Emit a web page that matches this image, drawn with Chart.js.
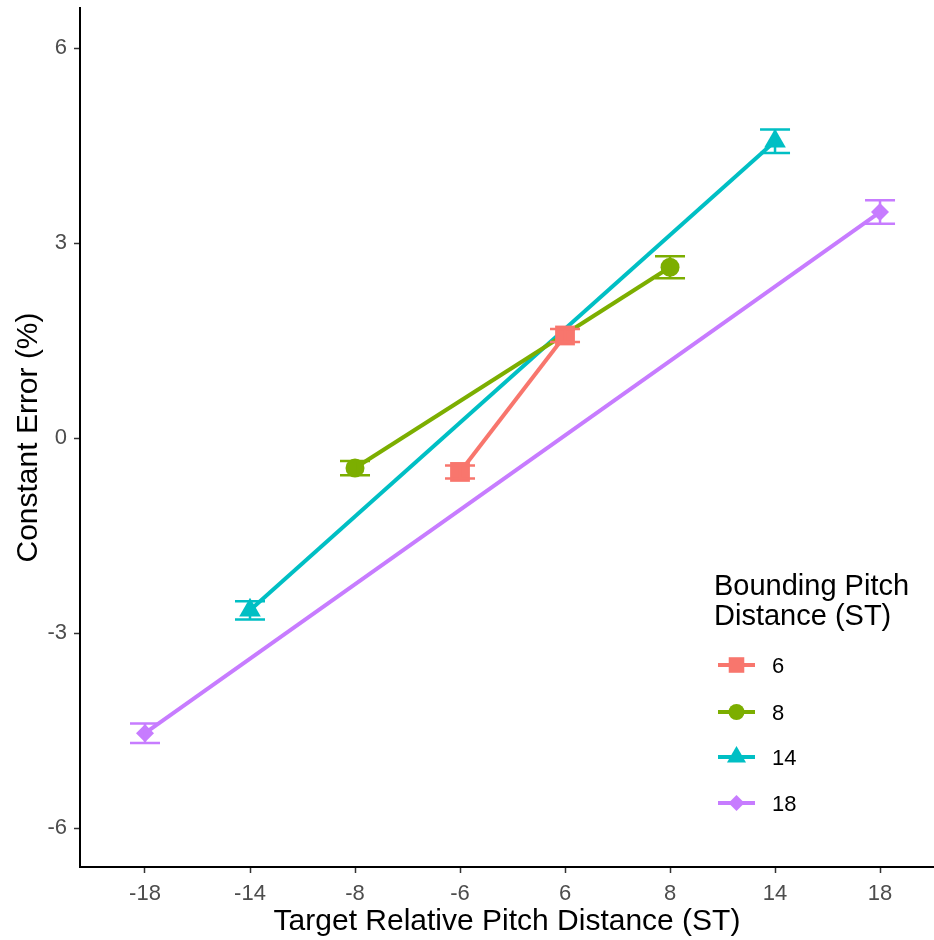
<!DOCTYPE html>
<html>
<head>
<meta charset="utf-8">
<script src="https://cdn.jsdelivr.net/npm/chart.js@4.4.0/dist/chart.umd.min.js"></script>
<style>
  html, body { margin: 0; padding: 0; background: #fff; }
  #wrap { width: 934px; height: 940px; }
</style>
</head>
<body>
<div id="wrap"><canvas id="chart" width="934" height="940"></canvas></div>
<script>
// x categories (target relative pitch distance, ST)
const xLabels = ["-18", "-14", "-8", "-6", "6", "8", "14", "18"];
const yTicks = [-6, -3, 0, 3, 6];

// bounding pitch distance groups
const groupNames = ["6", "8", "14", "18"];
const groupColors = ["#F8766D", "#7CAE00", "#00BFC4", "#C77CFF"];
const groupShapes = ["rect", "circle", "triangle", "rectRot"];
const groupRadius = [14, 9.5, 12.5, 9];

const targets6 = ["-6", "6"];
const means6 = [-0.52, 1.58];
const err6 = [0.1, 0.1];

const targets8 = ["-8", "8"];
const means8 = [-0.46, 2.63];
const err8 = [0.11, 0.17];

const targets14 = ["-14", "14"];
const means14 = [-2.65, 4.57];
const err14 = [0.14, 0.18];

const targets18 = ["-18", "18"];
const means18 = [-4.54, 3.48];
const err18 = [0.15, 0.18];

const allTargets = [targets6, targets8, targets14, targets18];
const allMeans = [means6, means8, means14, means18];
const allErr = [err6, err8, err14, err18];

const FONT = "'Liberation Sans', Arial, sans-serif";

const datasets = groupNames.map((g, k) => ({
  label: g,
  data: allTargets[k].map((t, i) => ({ x: xLabels.indexOf(t), y: allMeans[k][i], err: allErr[k][i] })),
  borderColor: groupColors[k],
  backgroundColor: groupColors[k],
  borderWidth: 4,
  pointStyle: groupShapes[k],
  pointRadius: groupRadius[k],
  pointHoverRadius: groupRadius[k],
  pointBorderWidth: 0,
  tension: 0,
}));

// error bars drawn through the scales
const errorBars = {
  id: "errorBars",
  afterDatasetsDraw(chart) {
    const ctx = chart.ctx;
    const xs = chart.scales.x, ys = chart.scales.y;
    chart.data.datasets.forEach((ds) => {
      ctx.save();
      ctx.strokeStyle = ds.borderColor;
      ctx.lineWidth = 2.5;
      ds.data.forEach((p) => {
        const px = xs.getPixelForValue(p.x);
        const top = ys.getPixelForValue(p.y + p.err);
        const bot = ys.getPixelForValue(p.y - p.err);
        ctx.beginPath();
        ctx.moveTo(px, top); ctx.lineTo(px, bot);
        ctx.moveTo(px - 15, top); ctx.lineTo(px + 15, top);
        ctx.moveTo(px - 15, bot); ctx.lineTo(px + 15, bot);
        ctx.stroke();
      });
      ctx.restore();
    });
  },
};

// legend inside the plot, like ggplot's
const insideLegend = {
  id: "insideLegend",
  afterDraw(chart) {
    const ctx = chart.ctx;
    ctx.save();
    ctx.fillStyle = "#000";
    ctx.textBaseline = "alphabetic";
    ctx.textAlign = "left";
    ctx.font = "29px " + FONT;
    ctx.fillText("Bounding Pitch", 714, 595);
    ctx.fillText("Distance (ST)", 714, 625);
    const rows = [665, 712, 757, 803];
    const sizes = [11, 8, 11, 8];
    ctx.font = "22px " + FONT;
    groupNames.forEach((g, k) => {
      const y = rows[k];
      ctx.strokeStyle = groupColors[k];
      ctx.fillStyle = groupColors[k];
      ctx.lineWidth = 4;
      ctx.beginPath();
      ctx.moveTo(718, y); ctx.lineTo(755, y);
      ctx.stroke();
      Chart.helpers.drawPoint(ctx, { pointStyle: groupShapes[k], radius: sizes[k], rotation: 0, borderWidth: 0 }, 736.5, y);
      ctx.fillStyle = "#000";
      ctx.fillText(g, 772, y + 8);
    });
    ctx.restore();
  },
};

function noPad(s) {
  s.paddingTop = 0; s.paddingBottom = 0; s.paddingLeft = 0; s.paddingRight = 0;
}

new Chart(document.getElementById("chart").getContext("2d"), {
  type: "line",
  data: { datasets: datasets },
  options: {
    responsive: false,
    devicePixelRatio: 1,
    animation: false,
    layout: { autoPadding: false, padding: { top: 8, right: 0, left: 0, bottom: 0 } },
    plugins: { legend: { display: false }, tooltip: { enabled: false } },
    scales: {
      x: {
        type: "linear",
        min: -0.619,
        max: 7.514,
        afterBuildTicks: (s) => { s.ticks = xLabels.map((_, i) => ({ value: i })); },
        afterFit: (s) => { s.height = 73; noPad(s); },
        ticks: {
          callback: (v) => xLabels[v],
          color: "#4D4D4D",
          font: { family: FONT, size: 22 },
          padding: 8,
          maxRotation: 0,
          autoSkip: false,
        },
        grid: { drawOnChartArea: false, tickLength: 6, tickColor: "#333", tickWidth: 1.5 },
        border: { color: "#000", width: 2 },
        title: {
          display: true,
          text: "Target Relative Pitch Distance (ST)",
          color: "#000",
          font: { family: FONT, size: 30 },
          padding: { top: 0, bottom: 0 },
        },
      },
      y: {
        min: -6.6,
        max: 6.62,
        afterBuildTicks: (s) => { s.ticks = yTicks.map((v) => ({ value: v })); },
        afterFit: (s) => { s.width = 80; noPad(s); },
        ticks: {
          color: "#4D4D4D",
          font: { family: FONT, size: 22 },
          padding: 7,
        },
        grid: { drawOnChartArea: false, tickLength: 6, tickColor: "#333", tickWidth: 1.5 },
        border: { color: "#000", width: 2 },
        title: {
          display: true,
          text: "Constant Error (%)",
          color: "#000",
          font: { family: FONT, size: 30 },
          padding: { top: 11, bottom: 0 },
        },
      },
    },
  },
  plugins: [errorBars, insideLegend],
});
</script>
</body>
</html>
